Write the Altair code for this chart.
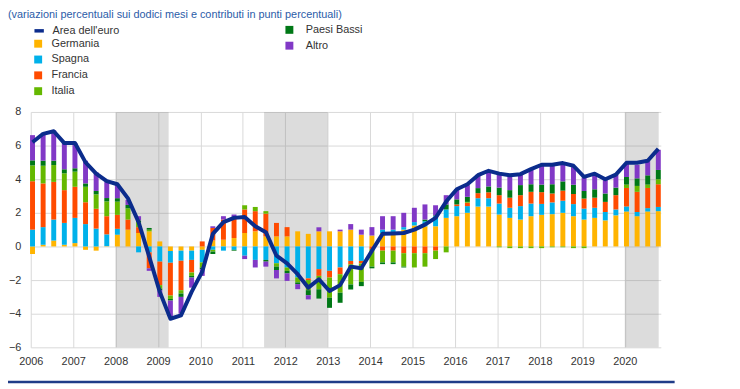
import altair as alt
import pandas as pd

subtitle = "(variazioni percentuali sui dodici mesi e contributi in punti percentuali)"

years = list(range(2006, 2021))
quarters = [1, 2, 3, 4]
quarter_labels = [f"{y}-T{q}" for y in years for q in quarters]

area_euro = [6.2, 6.7, 6.85, 6.15, 6.15, 5.0, 4.33, 3.88,
             3.7, 2.86, 1.45, -0.6, -2.7, -4.3, -4.1, -2.7,
             -1.5, 0.75, 1.45, 1.7, 1.75, 1.2, 0.85, -0.55,
             -1.0, -1.65, -2.45, -1.95, -2.65, -2.3, -1.2, -1.3,
             -0.25, 0.75, 0.77, 0.8, 1.0, 1.3, 1.7, 2.67,
             3.4, 3.7, 4.24, 4.5, 4.33, 4.24, 4.3, 4.6,
             4.86, 4.86, 4.96, 4.8, 4.14, 4.33, 4.0, 4.27,
             4.98, 4.98, 5.1, 5.8]
germania = [-0.45, 0.1, 0.35, 0.1, 0.2, -0.2, -0.25, 0.02,
            0.7, 1.0, 0.8, 0.9, 0.3, -0.27, -0.25, -0.25,
            -0.2, 0.35, 0.4, 0.5, 0.8, 0.9, 0.6, 0.6,
            0.6, 0.9, 0.75, 0.9, 0.9, 0.9, 1.0, 0.7,
            0.65, 0.8, 0.8, 1.0, 1.25, 1.2, 1.2, 1.7,
            1.8, 2.0, 2.37, 2.37, 1.9, 1.7, 1.6, 1.8,
            1.88, 1.92, 2.0, 1.8, 1.6, 1.7, 1.55, 1.85,
            2.08, 1.8, 2.08, 2.1]
spagna = [1.0, 1.05, 1.25, 1.3, 1.5, 1.33, 1.06, 0.7,
          0.35, 0.0, -0.35, -0.35, -0.9, -0.7, -0.6, -0.55,
          -0.75, -0.2, -0.25, -0.2, -0.55, -0.8, -0.8, -1.0,
          -1.25, -1.84, -1.9, -1.35, -1.45, -1.25, -0.86, -0.86,
          0.0, 0.2, 0.2, 0.15, 0.2, 0.3, 0.6, 0.5,
          0.6, 0.4, 0.5, 0.5, 0.65, 0.6, 0.8, 0.75,
          0.65, 0.7, 0.72, 0.72, 0.65, 0.6, 0.5, 0.35,
          0.3, 0.25, 0.2, 0.25]
francia = [2.88, 2.6, 2.24, 1.95, 1.85, 1.3, 1.18, 1.08,
           0.83, 0.6, 0.35, -0.95, -1.4, -1.95, -1.75, -0.75,
           0.3, 0.75, 1.2, 1.2, 1.4, 1.2, 1.35, 0.8,
           0.55, 0.0, -0.1, -0.4, -0.4, -0.4, -0.2, -0.15,
           -0.15, -0.25, -0.25, -0.4, -0.4, -0.4, -0.25, 0.0,
           0.1, 0.2, 0.3, 0.35, 0.5, 0.6, 0.65, 0.7,
           0.7, 0.53, 0.6, 0.6, 0.6, 0.6, 0.6, 0.85,
           1.1, 1.2, 1.2, 1.35]
italia = [0.94, 1.05, 1.0, 1.0, 0.9, 0.92, 0.86, 0.88,
          0.79, 0.67, 0.3, 0.1, -0.2, -0.2, -0.2, -0.2,
          -0.3, -0.1, 0.0, 0.05, 0.25, 0.25, 0.15, -0.2,
          -0.2, -0.3, -0.6, -0.8, -1.2, -1.1, -1.2, -1.1,
          -1.05, -0.7, -0.7, -0.8, -0.85, -0.8, -0.5, -0.35,
          0.0, 0.05, 0.0, 0.0, -0.05, -0.1, -0.1, -0.1,
          -0.1, -0.05, -0.05, -0.1, -0.1, 0.0, 0.0, 0.0,
          0.2, 0.35, 0.2, 0.3]
paesi_bassi = [0.3, 0.3, 0.26, 0.24, 0.2, 0.2, 0.2, 0.2,
               0.2, 0.2, 0.1, 0.1, -0.1, -0.1, -0.2, -0.1,
               -0.1, -0.15, 0.0, -0.05, 0.0, 0.0, -0.1, -0.2,
               -0.15, -0.1, -0.3, -0.55, -0.6, -0.6, -0.3, -0.25,
               -0.1, -0.1, -0.1, -0.05, 0.0, 0.1, 0.05, 0.3,
               0.3, 0.3, 0.3, 0.35, 0.45, 0.45, 0.6, 0.45,
               0.45, 0.55, 0.55, 0.55, 0.45, 0.5, 0.5, 0.45,
               0.45, 0.45, 0.55, 0.55]
altro = [1.5, 1.55, 1.8, 1.6, 1.5, 1.35, 1.1, 0.95,
         0.78, 0.3, 0.25, -0.15, -0.4, -1.0, -1.0, -0.6,
         -0.4, 0.1, 0.2, 0.15, -0.2, -0.45, -0.3, -0.5,
         -0.45, -0.3, -0.25, 0.24, 0.0, 0.1, 0.33, 0.3,
         0.5, 0.8, 0.8, 0.85, 0.85, 0.9, 0.6, 0.55,
         0.6, 0.7, 0.8, 0.9, 0.85, 0.85, 0.7, 0.85,
         1.15, 1.15, 1.1, 1.05, 0.8, 0.9, 0.8, 0.75,
         0.8, 0.8, 0.85, 1.2]

series_names = ["Germania", "Spagna", "Francia", "Italia", "Paesi Bassi", "Altro"]
series_values = [germania, spagna, francia, italia, paesi_bassi, altro]
series_colors = ["#FFB400", "#00B1EA", "#FF4B00", "#65B800", "#007816", "#8139C6"]
euro_name = "Area dell'euro"
euro_color = "#0B2C8C"

shade_start = [2008.0, 2011.5, 2020.0]
shade_end = [2009.25, 2013.0, 2020.8]
y_ticks = [-6, -4, -2, 0, 2, 4, 6, 8]

# quarter position: middle of the first month of the quarter
t_vals = [y + (3 * (q - 1) + 0.5) / 12 for y in years for q in quarters]

rows = []
for k, (name, vals) in enumerate(zip(series_names, series_values)):
    for t, lab, v in zip(t_vals, quarter_labels, vals):
        rows.append({"t": t, "trimestre": lab, "paese": name, "valore": v,
                     "ordine": k, "gruppo": "A" if k < 4 else "B"})
bars_df = pd.DataFrame(rows)
line_df = pd.DataFrame({"t": t_vals, "trimestre": quarter_labels,
                        "valore": area_euro, "serie": euro_name})
shade_df = pd.DataFrame({"inizio": shade_start, "fine": shade_end})

FONT = "Liberation Sans"
x_scale = alt.Scale(domain=[2006, 2020.85], nice=False, zero=False, padding=0)
y_scale = alt.Scale(domain=[-6, 8], nice=False, zero=False, padding=0)
x_axis = alt.Axis(values=years, format="d", title=None, grid=True, gridColor="#d9d9d9",
                  domain=False, ticks=False, labelPadding=8, labelFontSize=11,
                  labelFont=FONT, labelColor="#333333", labelFlush=False,
                  labelOverlap=False)
y_axis = alt.Axis(values=y_ticks, title=None, grid=True, gridColor="#d9d9d9",
                  domain=False, ticks=False, labelPadding=10, labelFontSize=11,
                  labelFont=FONT, labelColor="#333333", labelFlush=False,
                  labelOverlap=False)

shade = alt.Chart(shade_df).mark_rect(fill="#808080", opacity=0.28).encode(
    x=alt.X("inizio:Q", scale=x_scale, axis=x_axis),
    x2="fine:Q",
)

base = alt.Chart(bars_df).transform_stack(
    stack="valore", groupby=["t"], as_=["y0", "y1"],
    sort=[alt.SortField("ordine", order="ascending")],
)


def bar_layer(group, names, colors, lx, ly, loff):
    return base.transform_filter(alt.datum.gruppo == group).mark_bar(size=5).encode(
        x=alt.X("t:Q", scale=x_scale, axis=x_axis),
        y=alt.Y("y0:Q", scale=y_scale, axis=y_axis),
        y2="y1:Q",
        color=alt.Color("paese:N", scale=alt.Scale(domain=names, range=colors),
                        legend=alt.Legend(orient="none", legendX=lx, legendY=ly, title=None,
                                          symbolType="square", symbolSize=64,
                                          symbolStrokeWidth=0, labelFont=FONT,
                                          labelFontSize=11, labelColor="#333333",
                                          labelOffset=loff, rowPadding=4, padding=0)),
        tooltip=["trimestre:N", "paese:N", "valore:Q"],
    )


bars_a = bar_layer("A", series_names[:4], series_colors[:4], 2, -74.5, 8)
bars_b = bar_layer("B", series_names[4:], series_colors[4:], 256, -88.5, 11)

line = alt.Chart(line_df).mark_line(strokeWidth=4, strokeJoin="round").encode(
    x=alt.X("t:Q", scale=x_scale, axis=x_axis),
    y=alt.Y("valore:Q", scale=y_scale, axis=y_axis),
    color=alt.Color("serie:N", scale=alt.Scale(domain=[euro_name], range=[euro_color]),
                    legend=alt.Legend(orient="none", legendX=2, legendY=-88.5, title=None,
                                      symbolType="stroke", symbolSize=90,
                                      symbolStrokeWidth=3.5, labelFont=FONT,
                                      labelFontSize=11, labelColor="#333333",
                                      labelOffset=7, padding=0)),
    tooltip=["trimestre:N", "valore:Q"],
)

bottom_rule = alt.Chart(pd.DataFrame({"k": [0]})).mark_rule(
    color="#1F3C88", strokeWidth=2.5
).encode(x=alt.value(-31), x2=alt.value(651), y=alt.value(273))

chart = alt.layer(shade, bars_a, bars_b, line, bottom_rule).resolve_scale(
    color="independent"
).properties(
    width=637,
    height=238,
    autosize=alt.AutoSizeParams(type="none"),
    padding={"left": 23, "top": 103, "right": 72, "bottom": 38},
    title=alt.TitleParams(subtitle, anchor="start", frame="group", dx=-23,
                          fontSize=11, font=FONT, fontWeight="normal",
                          color="#2B5CA8"),
).configure_view(stroke=None)

chart.save("out.html", embed_options={"renderer": "svg", "actions": False})
